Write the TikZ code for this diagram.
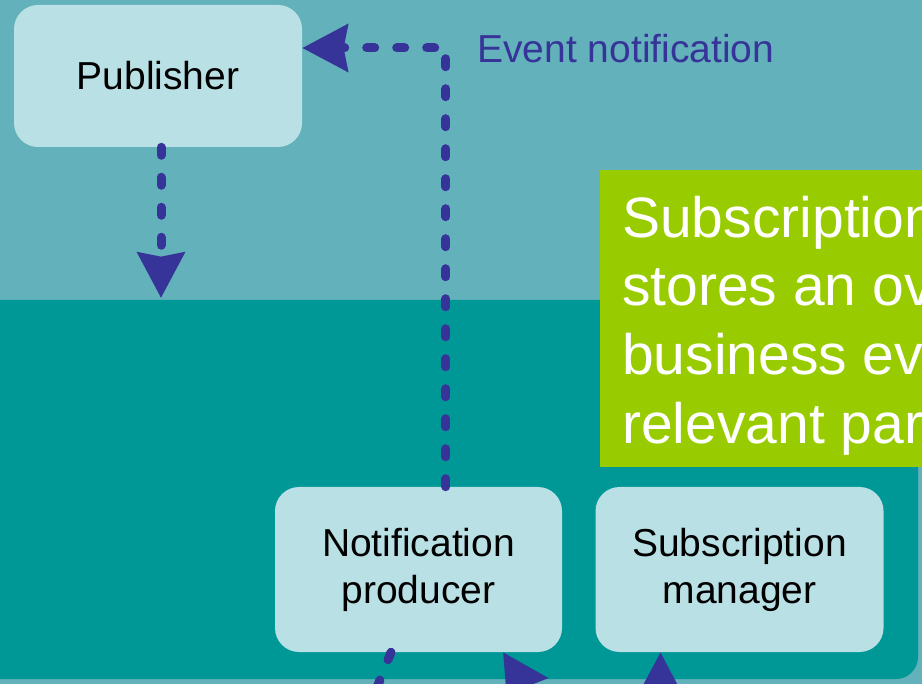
\documentclass[tikz,border=0pt]{standalone}
\usepackage{fontspec}
\setmainfont{Liberation Sans}
\usetikzlibrary{arrows.meta,positioning}

\definecolor{skyteal}{HTML}{63B1BA}
\definecolor{deepteal}{HTML}{009797}
\definecolor{paleteal}{HTML}{B9E0E4}
\definecolor{limegreen}{HTML}{99CC00}
\definecolor{flowblue}{HTML}{373499}

\begin{document}
\begin{tikzpicture}[x=0.75pt,y=-0.75pt,>={Stealth[length=34pt,width=35pt,inset=3pt]},node distance=24.75pt]
                \tikzstyle{role}=[fill=paleteal, rounded corners=18pt, align=center, text=black, inner sep=0pt, font=\fontsize{29.25}{35.25}\selectfont]
                \tikzstyle{flow}=[draw=flowblue, line width=6.75pt, line cap=round, dash pattern=on 6pt off 16.5pt]
                \tikzstyle{note}=[fill=limegreen, inner sep=0pt, anchor=north west]
                \tikzstyle{note-text}=[anchor=north west, inner sep=0pt, align=left, text=white, font=\fontsize{42.75}{51.5}\selectfont]

                % background bands
                \useasboundingbox (0,0) rectangle (922,684);
                \fill[skyteal] (0,0) rectangle (922,684);
                \fill[deepteal, rounded corners=16.5pt] (-30,300) rectangle (918,679);

                \node[role, minimum width=216pt, minimum height=106.5pt] (pub) at (158,76) {Publisher};
                \node[role, minimum width=215.25pt, minimum height=123.75pt] (prod) at (418.5,569.5) {Notification\\producer};
                \node[role, minimum width=216pt, minimum height=123.75pt] (mgr) [right=of prod] {Subscription\\manager};

                \node[note, minimum width=330pt, minimum height=222.75pt] (note) at (600,170) {};
                \node[note-text] (note-txt) at (622,195.5) {Subscription\\stores an ov\\business ev\\relevant par};

                \coordinate (drop) at (161,298);
                \coordinate (feed) at (370,705);
                \coordinate (sink) at (575,765);
                \coordinate (query) at (660,800);

                \draw[flow,->] (drop |- pub.south) -- (drop);
                \draw[flow,->] ([xshift=20.6pt]prod.north) |- ([yshift=21pt]pub.east);
                \node[anchor=base west, inner sep=0pt, text=flowblue, font=\fontsize{29.25}{35}\selectfont] (evt) at (477,63) {Event notification};

                \draw[flow] ([xshift=-20.6pt]prod.south) -- (feed);
                \draw[flow,->] (sink) -- ([xshift=63.4pt]prod.south);
                \draw[flow,->] (query) -- ([xshift=-59.25pt]mgr.south);
\end{tikzpicture}
\end{document}
